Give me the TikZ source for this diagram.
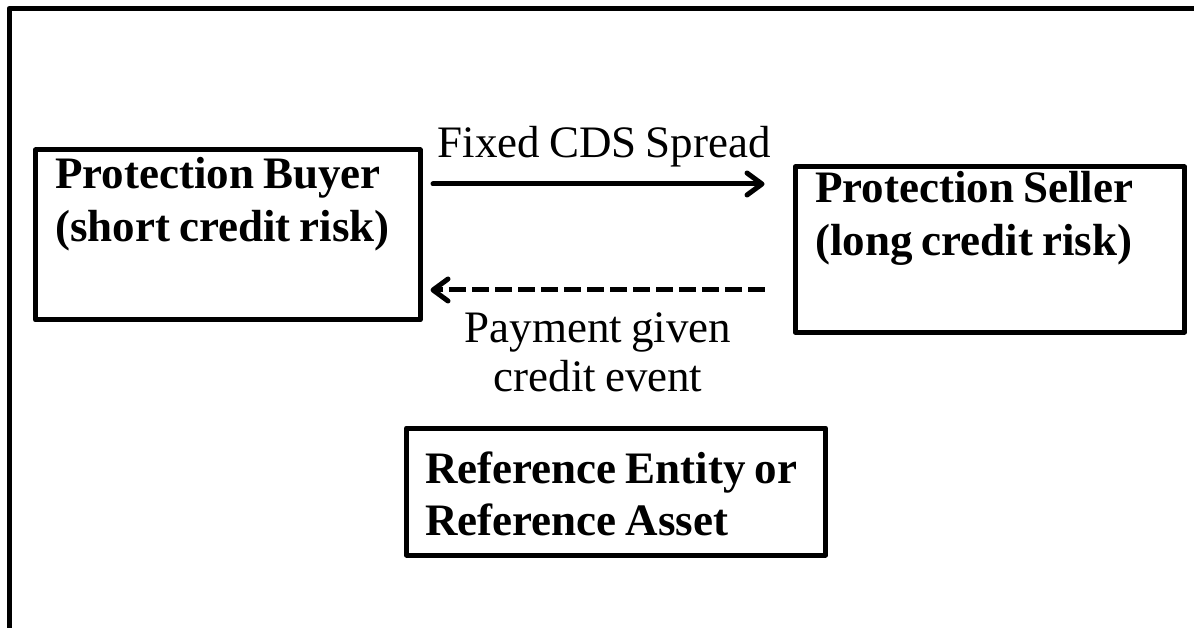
\documentclass[tikz,border=0pt]{standalone}
\usepackage{fontspec}
\setmainfont[WordSpace=0.8]{Liberation Serif}
\usetikzlibrary{arrows.meta}
\begin{document}
\begin{tikzpicture}[x=1pt,y=-1pt,
  frame/.style={line width=5pt, line join=round},
  party/.style={draw, line width=5pt, line join=round, inner sep=0pt},
  boxtext/.style={anchor=base west, inner sep=0pt, font=\fontsize{45}{54}\selectfont\bfseries},
  flowtext/.style={anchor=base, inner sep=0pt, font=\fontsize{45}{54}\selectfont},
  flow/.style={line width=5pt, line cap=round,
    -{Straight Barb[length=15pt,width=22pt,line cap=round,line join=round]}}
]
\clip (0,0) rectangle (1194,628);
\fill[white] (0,0) rectangle (1194,628);
% outer frame, open to the right and bottom
\draw[frame] (9,700) -- (9,8.5) -- (1250,8.5);

% the three parties
\node[party, minimum width=384.5pt, minimum height=170pt] (buyer) at (227.75,235) {};
\node[party, minimum width=389.5pt, minimum height=165pt] (seller) at (989.75,249.5) {};
\node[party, minimum width=419pt, minimum height=127pt] (ref) at (616,491.5) {};

\node[boxtext] (buyer1) at (55,189) {Protection Buyer};
\node[boxtext] (buyer2) at (55,242) {(short credit risk)};
\node[boxtext] (seller1) at (815,203) {Protection Seller};
\node[boxtext] (seller2) at (815,256) {(long credit risk)};
\node[boxtext] (ref1) at (425,483) {Reference Entity or};
\node[boxtext] (ref2) at (425,535) {Reference Asset};

% cash flows
\node[flowtext] (spread) at (604,158) {Fixed CDS Spread};
\node[flowtext] (pay1) at (598,342) {Payment given};
\node[flowtext] (pay2) at (598,391) {credit event};

\draw[flow, shorten <=10.5pt, shorten >=28pt] (buyer.east |- 0,184) -- (seller.west |- 0,184);
\draw[flow, line cap=butt, dash pattern=on 17pt off 6pt, shorten <=28pt, shorten >=8pt]
  (seller.west |- 0,290) -- (buyer.east |- 0,290);
\end{tikzpicture}
\end{document}
